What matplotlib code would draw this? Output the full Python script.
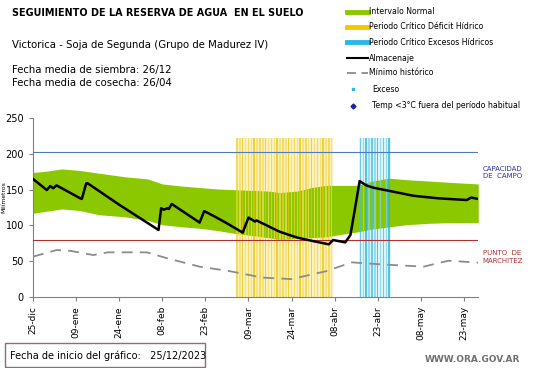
import numpy as np
import matplotlib
matplotlib.use('Agg')
from matplotlib import pyplot as plt
from matplotlib.lines import Line2D
from matplotlib.patches import Rectangle

# dias desde 25-dic-2023
etiquetas_x = ['25-dic', '09-ene', '24-ene', '08-feb', '23-feb', '09-mar',
               '24-mar', '08-abr', '23-abr', '08-may', '23-may']
ticks_x = [0, 15, 30, 45, 60, 75, 90, 105, 120, 135, 150]

# intervalo normal (banda verde)
dias_banda = [0, 5, 10, 16, 23, 32, 40, 45, 52, 58, 64, 70, 76, 82, 86, 92,
              97, 102, 108, 113, 118, 124, 130, 138, 146, 155]
banda_sup = [174, 176, 179, 177, 173, 168, 165, 158, 155, 153, 151, 150, 149,
             148, 146, 148, 153, 156, 156, 156, 162, 166, 164, 162, 160, 158]
banda_inf = [117, 120, 123, 121, 115, 112, 107, 101, 98, 96, 93, 89, 86, 83,
             80, 82, 83, 84, 88, 91, 95, 98, 101, 103, 104, 104]

# almacenaje
dias_alm = [0, 4.8, 6, 7, 8.2, 16.4, 17, 18.5, 19, 30, 43.7, 44.6, 45.5, 46.8,
            47.3, 48.3, 58, 59.6, 63, 67.5, 73, 75, 77.3, 77.8, 86, 92, 97.6,
            103, 104.5, 108.7, 110.5, 111.9, 113.7, 116, 118.5, 124.4, 132.4,
            140.8, 151, 152.5, 155]
almacenaje = [165, 149.5, 155, 152, 156, 138, 137, 158.6, 159, 129, 93.6, 124,
              122, 124, 123, 130, 104, 120, 113, 103, 90, 111, 105.5, 107, 91,
              83, 78, 73.6, 79.6, 76.3, 86.6, 119, 162, 156, 152.7, 148, 141.5,
              138, 135.5, 139, 137]

# minimo historico
dias_min = [0, 8.2, 13, 21, 26, 39.6, 46.8, 58, 68.6, 80, 90, 102, 111, 121,
            136, 144.6, 155]
minimo = [56.4, 65.6, 64.5, 58.6, 62.4, 62.4, 54, 42.4, 36, 27, 25, 36, 48.4,
          45.6, 42.4, 50.7, 48]

# periodos criticos
dias_deficit = list(range(71, 105))
dias_exceso = list(range(114, 125))
altura_periodo = 222

capacidad_campo = 202
punto_marchitez = 80

fig = plt.figure(figsize=(5.41, 3.68), dpi=100)
ax = fig.add_axes([0.061, 0.193, 0.823, 0.486])

# fondo palido de los periodos
ax.bar(dias_deficit, [altura_periodo] * len(dias_deficit), width=1.0,
       color='#FBF1C0', lw=0, zorder=0)
ax.bar(dias_exceso, [altura_periodo] * len(dias_exceso), width=1.0,
       color='#DDF3FA', lw=0, zorder=0)

ax.fill_between(dias_banda, banda_inf, banda_sup, color='#8CC800', lw=0, zorder=1)

colores_def = ['#F2D230', '#F5DE66', '#E8C400', '#F5DE66']
colores_exc = ['#3EC0E2', '#7FD4EC', '#29B4DC', '#7FD4EC']
ax.bar(dias_deficit, [altura_periodo] * len(dias_deficit), width=0.5,
       color=[colores_def[i % 4] for i in range(len(dias_deficit))],
       alpha=0.7, lw=0, zorder=2)
ax.bar(dias_exceso, [altura_periodo] * len(dias_exceso), width=0.55,
       color=[colores_exc[i % 4] for i in range(len(dias_exceso))],
       alpha=0.75, lw=0, zorder=2)

ax.axhline(capacidad_campo, color='#4F7CC0', lw=0.8, zorder=3)
ax.axhline(punto_marchitez, color='#B03030', lw=0.8, zorder=3)

ax.plot(dias_min, minimo, color='#8C8C8C', lw=1.3, dashes=(6, 4), zorder=4)
ax.plot(dias_alm, almacenaje, color='black', lw=1.8, zorder=5)

ax.set_xlim(0, 155)
ax.set_ylim(0, 250)
ax.set_yticks([0, 50, 100, 150, 200, 250])
ax.set_xticks(ticks_x)
ax.set_xticklabels(etiquetas_x, rotation=90, fontsize=6.5)
ax.tick_params(axis='y', labelsize=7, length=3, color='#808080')
ax.tick_params(axis='x', length=3, color='#808080')
for s in ['top', 'right']:
    ax.spines[s].set_visible(False)
for s in ['left', 'bottom']:
    ax.spines[s].set_color('#808080')
ax.set_ylabel('Milímetros', fontsize=4.3, va='center')
ax.yaxis.set_label_coords(-0.066, 0.56)

ax.text(1.01, capacidad_campo - 28, 'CAPACIDAD\nDE  CAMPO', transform=ax.get_yaxis_transform(),
        fontsize=5, color='#2E2E9E', va='center', linespacing=1.3)
ax.text(1.01, punto_marchitez - 24, 'PUNTO  DE\nMARCHITEZ', transform=ax.get_yaxis_transform(),
        fontsize=5, color='#B03030', va='center', linespacing=1.3)

# textos de cabecera
fig.text(12 / 541, 1 - 13 / 368, 'SEGUIMIENTO DE LA RESERVA DE AGUA  EN EL SUELO',
         fontsize=6.9, fontweight='bold', va='center')
fig.text(12 / 541, 1 - 45 / 368, 'Victorica - Soja de Segunda (Grupo de Madurez IV)',
         fontsize=7.3, va='center')
fig.text(12 / 541, 1 - 70 / 368, 'Fecha media de siembra: 26/12',
         fontsize=7.3, va='center')
fig.text(12 / 541, 1 - 83 / 368, 'Fecha media de cosecha: 26/04',
         fontsize=7.3, va='center')

# leyenda manual
ley_y = [11.7, 26.7, 42.3, 58.3, 72.7, 89.3, 106]
ley_txt = ['Intervalo Normal', 'Periodo Crítico Déficit Hídrico',
           'Periodo Crítico Excesos Hídricos', 'Almacenaje', 'Mínimo histórico',
           'Exceso', 'Temp <3°C fuera del período habitual']
x0, x1 = 347 / 541, 368 / 541
for i, (yy, t) in enumerate(zip(ley_y, ley_txt)):
    yf = 1 - yy / 368
    xt = 369 / 541
    if i == 0:
        fig.add_artist(Line2D([x0, x1], [yf, yf], color='#8CC800', lw=3.5))
    elif i == 1:
        fig.add_artist(Line2D([x0, x1], [yf, yf], color='#F2C800', lw=3.5))
    elif i == 2:
        fig.add_artist(Line2D([x0, x1], [yf, yf], color='#29B8E8', lw=3.5))
    elif i == 3:
        fig.add_artist(Line2D([x0, x1], [yf, yf], color='black', lw=1.5))
    elif i == 4:
        fig.add_artist(Line2D([x0, x1], [yf, yf], color='#8C8C8C', lw=1.3, dashes=(5, 3)))
    elif i == 5:
        fig.add_artist(Line2D([353 / 541], [yf], marker='s', ms=2, color='#29B8E8', lw=0))
        xt = 372 / 541
    elif i == 6:
        fig.add_artist(Line2D([353 / 541], [yf], marker='D', ms=2.5, color='#1F1FA0', lw=0))
        xt = 372 / 541
    fig.text(xt, yf, t, fontsize=5.6, va='center')

# pie
fig.add_artist(Rectangle((5 / 541, 0.003), 200 / 541, 24 / 368,
                         fill=False, ec='#8C6E6E', lw=1, transform=fig.transFigure))
fig.text(10 / 541, 1 - 356 / 368, 'Fecha de inicio del gráfico:   25/12/2023',
         fontsize=7, va='center')
fig.text(425 / 541, 1 - 359 / 368, 'WWW.ORA.GOV.AR', fontsize=6.5,
         color='#707070', fontweight='bold', va='center')

fig.savefig('out.png', dpi=100)
